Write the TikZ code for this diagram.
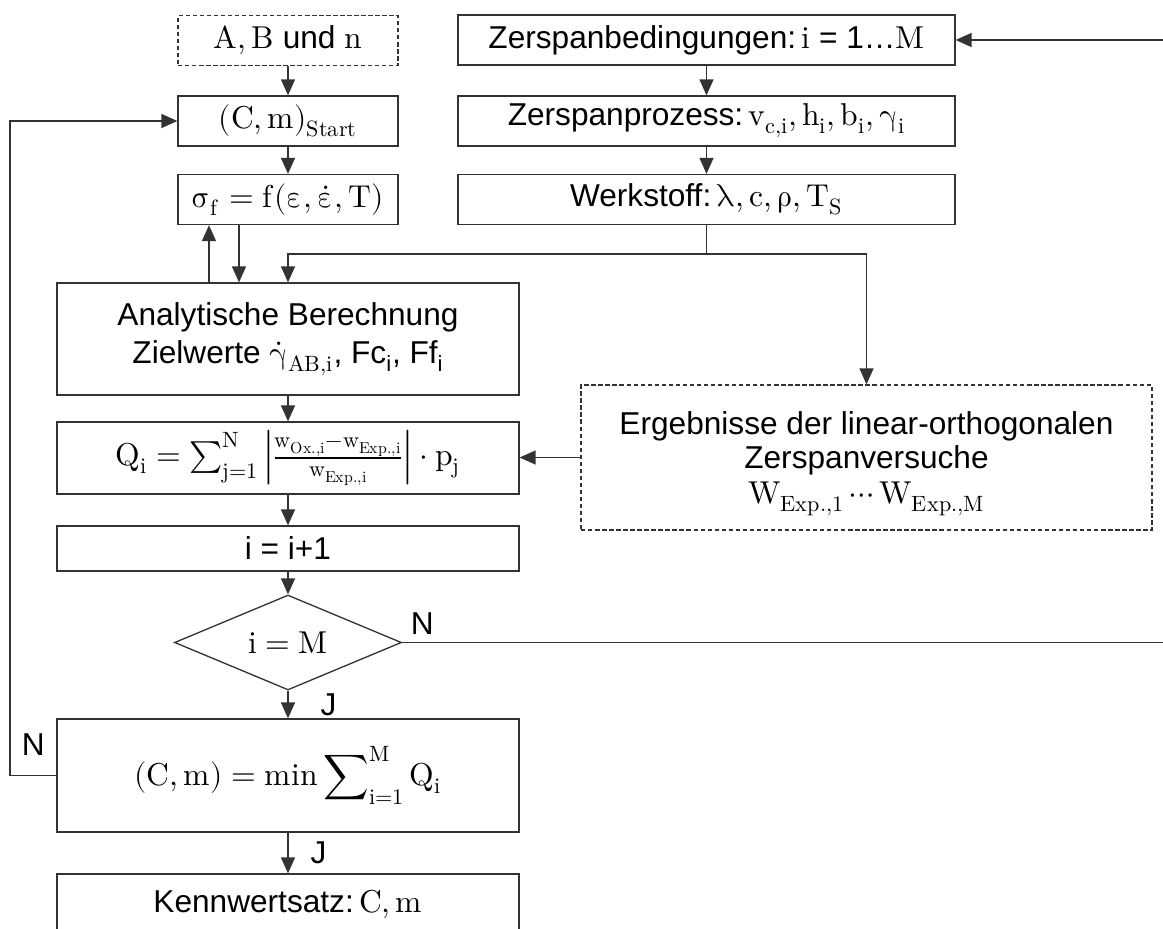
\documentclass[tikz,border=0pt]{standalone}
\usepackage{fontspec}
\usepackage[math-style=upright]{unicode-math}
\setmainfont{Liberation Sans}
\setmathfont{Latin Modern Math}
\usetikzlibrary{arrows.meta,shapes.geometric,positioning}
\tikzset{>={Triangle[length=3.2mm,width=2.8mm]}}

\begin{document}
\begin{tikzpicture}[x=0.02cm,y=-0.02cm,
    every node/.style={font=\fontsize{18}{22}\selectfont},
    box/.style={draw=black!80,line width=0.75pt,rectangle,inner sep=0pt,
                align=center,minimum height=1cm},
    dashbox/.style={box,dash pattern=on 2.5pt off 1.5pt},
    lbl/.style={inner sep=0pt},
    line/.style={draw=black!80,line width=0.75pt}]

  % page
  \useasboundingbox (0,0) rectangle (1163,929);
  \clip (0,0) rectangle (1163,929);

  % box widths
  \def\ws{4.4cm}   % small left boxes
  \def\wr{9.94cm}  % right boxes
  \def\wl{9.24cm}  % wide left boxes

  % left column
  \node[dashbox,minimum width=\ws] (abn) at (288,40.5) {$A, B$ und $n$};
  \node[box,minimum width=\ws] (start) at (288,121) {$(C, m)_{Start}$};
  \node[box,minimum width=\ws] (sigma) at (288,199.5) {$σ_f = f(ε, \dot{ε}, T)$};

  % right column
  \node[box,minimum width=\wr] (zb) at (706.5,40) {Zerspanbedingungen:\,$i$ = 1\dots$M$};
  \node[box,minimum width=\wr] (zp) at (706.5,121) {Zerspanprozess:\,$v_{c,i}, h_i, b_i, γ_i$};
  \node[box,minimum width=\wr] (ws) at (706.5,199.5) {Werkstoff:\,$λ, c, ρ, T_S$};

  % main chain
  \node[box,minimum width=\wl,minimum height=2.24cm] (ana) at (288,339)
    {Analytische Berechnung\\Zielwerte $\dot{γ}_{AB,i}$, Fc\textsubscript{i}, Ff\textsubscript{i}};
  \node[box,minimum width=\wl,minimum height=1.44cm] (qbox) at (288,458)
    {$Q_i = \sum_{j=1}^{N} \left|\frac{w_{Ox.,i}-w_{Exp.,i}}{w_{Exp.,i}}\right| \cdot p_j$};
  \node[box,minimum width=\wl,minimum height=0.9cm] (inc) at (288,548.5) {i = i+1};
  \node[draw=black!80,line width=0.75pt,diamond,inner sep=0pt,aspect=2.39,
        minimum width=4.54cm,minimum height=1.9cm] (dia) at (288,642.5) {$i = M$};
  \node[box,minimum width=\wl,minimum height=2.26cm] (minbox) at (288,775.5)
    {$(C, m) = \mathop{\symup{min}}\displaystyle\sum\nolimits_{i=1}^{M} Q_i$};
  \node[box,minimum width=\wl,minimum height=1.2cm] (kw) at (288,904) {Kennwertsatz:\,$C, m$};

  % experiments
  \node[dashbox,minimum width=11.42cm,minimum height=2.9cm,
        font=\fontsize{18}{19}\selectfont] (ergeb) at (866.5,457.5)
    {\rule{0pt}{20pt}Ergebnisse der linear-orthogonalen\\Zerspanversuche\\[1pt]$W_{Exp.,1} \cdots W_{Exp.,M}$};

  % helper points
  \coordinate (upx) at (209,0);
  \coordinate (downx) at (239,0);
  \coordinate (split) at (706.5,254);
  \coordinate (loopl) at (10,0);
  \coordinate (loopr) at (1180,0);

  % arrows
  \draw[line,->] (abn) -- (start);
  \draw[line,->] (start) -- (sigma);
  \draw[line,->] (upx |- ana.north) -- (upx |- sigma.south);
  \draw[line,->] (downx |- sigma.south) -- (downx |- ana.north);
  \draw[line,->] (zb) -- (zp);
  \draw[line,->] (zp) -- (ws);
  \draw[line,->] (ws.south) -- (split) -| (ana.north);
  \draw[line,->] (split) -| (ergeb.north);
  \draw[line,->] (ana) -- (qbox);
  \draw[line,->] (ergeb.west) -- (ergeb.west -| qbox.east);
  \draw[line,->] (qbox) -- (inc);
  \draw[line,->] (inc) -- (dia);
  \draw[line,->] (dia.south) -- node[lbl,right=0.64cm] {J} (minbox.north);
  \draw[line,->] (minbox.south) -- node[lbl,right=0.44cm] {J} (kw.north);

  % loops back
  \draw[line,->] (dia.east) node[lbl,above right=0.14cm and 0.16cm] {N}
    -- (loopr |- dia.east) |- (zb.east);
  \draw[line,->] (minbox.west) -- node[lbl,above=0.38cm] {N} (loopl |- minbox.west)
    |- (start.west);

\end{tikzpicture}
\end{document}
